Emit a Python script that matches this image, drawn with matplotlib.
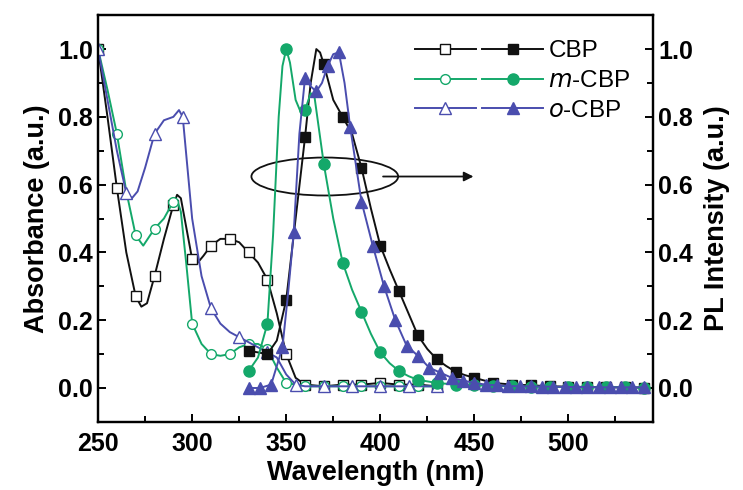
import matplotlib
matplotlib.use("Agg")
import matplotlib.pyplot as plt
from matplotlib.legend_handler import HandlerTuple
from matplotlib.patches import Ellipse

plt.rcParams['font.family'] = ['Liberation Sans', 'DejaVu Sans']

# absorption spectra
cbp_abs_wl = [250, 255, 260, 265, 270, 273, 276, 280, 285, 290, 292, 294, 297, 300, 303, 306, 310, 315,
              320, 325, 330, 335, 340, 345, 350, 355, 360, 370, 380, 390, 400, 410, 420, 430]
cbp_abs = [1.00, 0.80, 0.59, 0.40, 0.27, 0.24, 0.25, 0.33, 0.44, 0.54, 0.57, 0.56, 0.47, 0.38, 0.37, 0.39,
           0.42, 0.44, 0.44, 0.43, 0.40, 0.37, 0.32, 0.22, 0.10, 0.03, 0.01, 0.005, 0.01, 0.01, 0.015, 0.01,
           0.01, 0.005]

mcbp_abs_wl = [250, 255, 260, 265, 270, 274, 280, 285, 290, 292, 294, 297, 300, 305, 310, 315,
               320, 325, 330, 335, 340, 345, 350, 355, 360, 370, 380, 390, 400, 410, 420, 430]
mcbp_abs = [1.00, 0.88, 0.75, 0.58, 0.45, 0.42, 0.47, 0.50, 0.55, 0.555, 0.52, 0.36, 0.19, 0.13, 0.10, 0.095,
            0.10, 0.12, 0.13, 0.13, 0.115, 0.06, 0.015, 0.01, 0.005, 0.005, 0.005, 0.005, 0.005, 0.005, 0.005,
            0.005]

ocbp_abs_wl = [250, 255, 260, 265, 268, 271, 275, 280, 285, 290, 293, 295, 297, 300, 305, 310, 315,
               320, 325, 330, 335, 340, 345, 350, 355, 360, 370, 385, 400, 415, 430]
ocbp_abs = [1.00, 0.85, 0.70, 0.575, 0.56, 0.58, 0.65, 0.75, 0.79, 0.80, 0.82, 0.80, 0.68, 0.50, 0.33, 0.235,
            0.19, 0.165, 0.15, 0.135, 0.12, 0.105, 0.09, 0.04, 0.01, 0.005, 0.005, 0.005, 0.005, 0.005, 0.005]

# photoluminescence spectra
cbp_pl_wl = [330, 335, 340, 345, 350, 355, 360, 363, 366, 368, 370, 375, 380, 385, 390, 395, 400,
             405, 410, 415, 420, 425, 430, 435, 440, 445, 450, 460, 470, 480, 490, 500, 510, 520, 530, 540]
cbp_pl = [0.11, 0.105, 0.10, 0.14, 0.26, 0.50, 0.74, 0.90, 1.00, 0.99, 0.955, 0.85, 0.80, 0.75, 0.65, 0.53, 0.42,
          0.35, 0.285, 0.22, 0.155, 0.115, 0.085, 0.065, 0.048, 0.038, 0.03, 0.015, 0.01, 0.008, 0.005, 0.004,
          0.003, 0.002, 0.002, 0.001]

mcbp_pl_wl = [330, 335, 340, 343, 346, 348, 350, 352, 355, 358, 360, 363, 365, 367, 370, 375, 380, 385,
              390, 395, 400, 405, 410, 415, 420, 430, 440, 450, 460, 470, 480, 490, 500, 510, 520, 530, 540]
mcbp_pl = [0.05, 0.09, 0.19, 0.45, 0.80, 0.95, 1.00, 0.96, 0.85, 0.81, 0.82, 0.87, 0.86, 0.78, 0.66, 0.50,
           0.37, 0.29, 0.225, 0.16, 0.105, 0.073, 0.05, 0.035, 0.024, 0.015, 0.01, 0.008, 0.006, 0.005,
           0.004, 0.003, 0.003, 0.002, 0.002, 0.002, 0.001]

ocbp_pl_wl = [330, 336, 342, 348, 351, 354, 357, 360, 363, 366, 369, 372, 375, 378, 381, 384, 390, 396,
              402, 408, 414, 420, 426, 432, 438, 444, 450, 456, 462, 468, 474, 480, 486, 492, 498, 504,
              510, 516, 522, 528, 534, 540]
ocbp_pl = [0.0, 0.0, 0.01, 0.12, 0.28, 0.46, 0.75, 0.915, 0.89, 0.875, 0.90, 0.95, 0.985, 0.99, 0.90, 0.77,
           0.55, 0.42, 0.30, 0.20, 0.125, 0.095, 0.06, 0.045, 0.03, 0.022, 0.015, 0.01, 0.008, 0.006, 0.005,
           0.005, 0.004, 0.004, 0.003, 0.003, 0.003, 0.002, 0.002, 0.002, 0.002, 0.002]

labels = ['CBP', r'$\it{m}$-CBP', r'$\it{o}$-CBP']
black = '#111111'
green = '#14A86A'
blue = '#4A4DAE'


def marks(wl, start, step):
    return [i for i, w in enumerate(wl) if (w - start) % step == 0]


fig = plt.figure(figsize=(7.43, 4.90), dpi=100)
ax = fig.add_axes([0.132, 0.139, 0.747, 0.830])
ax2 = ax.twinx()

lw = 1.4
ms = 7
a1, = ax.plot(cbp_abs_wl, cbp_abs, '-', color=black, lw=lw, marker='s', ms=ms, mfc='white',
              mec=black, markevery=marks(cbp_abs_wl, 250, 10))
a2, = ax.plot(mcbp_abs_wl, mcbp_abs, '-', color=green, lw=lw, marker='o', ms=ms, mfc='white',
              mec=green, markevery=marks(mcbp_abs_wl, 250, 10))
a3, = ax.plot(ocbp_abs_wl, ocbp_abs, '-', color=blue, lw=lw, marker='^', ms=ms + 1, mfc='white',
              mec=blue, markevery=marks(ocbp_abs_wl, 250, 15))

p1, = ax2.plot(cbp_pl_wl, cbp_pl, '-', color=black, lw=lw, marker='s', ms=ms, mfc=black,
               mec=black, markevery=marks(cbp_pl_wl, 330, 10))
p2, = ax2.plot(mcbp_pl_wl, mcbp_pl, '-', color=green, lw=lw, marker='o', ms=ms + 1, mfc=green,
               mec=green, markevery=marks(mcbp_pl_wl, 330, 10))
p3, = ax2.plot(ocbp_pl_wl, ocbp_pl, '-', color=blue, lw=lw, marker='^', ms=ms + 1, mfc=blue,
               mec=blue, markevery=marks(ocbp_pl_wl, 330, 6))

# ellipse and arrow pointing to the PL axis
ax2.add_patch(Ellipse((370.5, 0.624), 78, 0.112, fill=False, ec=black, lw=1.3))
ax2.annotate('', xy=(451, 0.624), xytext=(400, 0.624),
             arrowprops=dict(arrowstyle='-|>', color=black, lw=1.3, mutation_scale=14))

for a in (ax, ax2):
    a.set_xlim(250, 545)
    a.set_ylim(-0.1, 1.1)
    a.set_yticks([0.0, 0.2, 0.4, 0.6, 0.8, 1.0])
    a.set_yticks([0.1, 0.3, 0.5, 0.7, 0.9], minor=True)
    for s in a.spines.values():
        s.set_linewidth(1.6)
ax.set_xticks([250, 300, 350, 400, 450, 500])
ax.set_xticks([275, 325, 375, 425, 475, 525], minor=True)

for a in (ax, ax2):
    a.tick_params(which='both', direction='in', width=1.4, labelsize=18, top=False)
    a.tick_params(which='major', length=6)
    a.tick_params(which='minor', length=4)
ax.tick_params(axis='x', pad=7)
for t in ax.get_xticklabels() + ax.get_yticklabels() + ax2.get_yticklabels():
    t.set_fontweight('bold')

ax.set_xlabel('Wavelength (nm)', fontsize=19.5, fontweight='bold', labelpad=3)
ax.set_ylabel('Absorbance (a.u.)', fontsize=19.5, fontweight='bold', labelpad=6)
ax2.set_ylabel('PL Intensity (a.u.)', fontsize=19.5, fontweight='bold', labelpad=8)

ax2.legend([(a1, p1), (a2, p2), (a3, p3)], labels,
           handler_map={tuple: HandlerTuple(ndivide=None, pad=0.25)},
           numpoints=1, handlelength=5.3, fontsize=17.5, frameon=False,
           loc='upper right', bbox_to_anchor=(0.99, 0.98), borderaxespad=0.3,
           labelspacing=0.32, handletextpad=0.2)

fig.savefig('out.png', dpi=100)
